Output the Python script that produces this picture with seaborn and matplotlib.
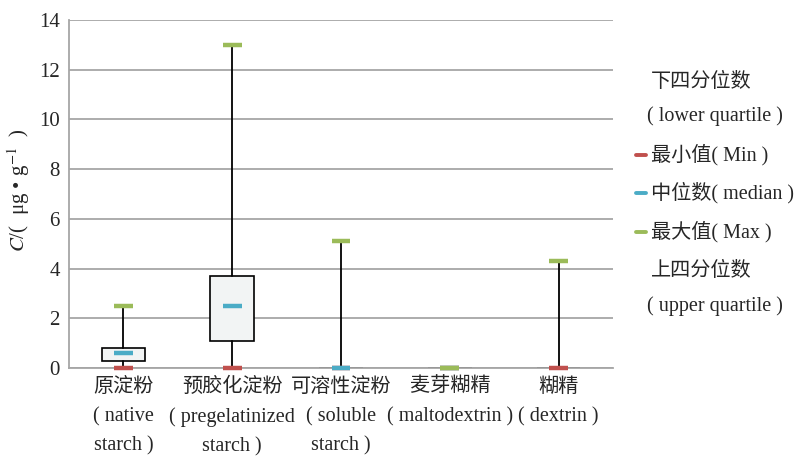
import numpy as np
import pandas as pd
import matplotlib
matplotlib.use("Agg")
import matplotlib.pyplot as plt
from matplotlib.lines import Line2D
import seaborn as sns

# ---- data -------------------------------------------------------------
categories = ["原淀粉", "预胶化淀粉", "可溶性淀粉", "麦芽糊精", "糊精"]
tick_labels = [
    "原淀粉\n( native\nstarch )",
    "预胶化淀粉\n( pregelatinized\nstarch )",
    "可溶性淀粉\n( soluble\nstarch )",
    "麦芽糊精\n( maltodextrin )",
    "糊精\n( dextrin )",
]
min_vals = [0.0, 0.0, 0.0, 0.0, 0.0]
q1_vals = [0.3, 1.1, 0.0, 0.0, 0.0]
median_vals = [0.6, 2.5, 0.0, 0.0, np.nan]
q3_vals = [0.8, 3.7, 0.0, 0.0, 0.0]
max_vals = [2.5, 13.0, 5.1, 0.0, 4.3]

stat_names = ["最小值( Min )", "中位数( median )", "最大值( Max )"]
stat_colors = ["#c0504d", "#4bacc6", "#9bbb59"]
y_ticks = [0, 2, 4, 6, 8, 10, 12, 14]

# ---- style ------------------------------------------------------------
sns.set_style("white")
plt.rcParams["font.family"] = ["Liberation Serif", "Noto Sans CJK SC"]
plt.rcParams["mathtext.fontset"] = "stix"
FS = 14.5

W, H = 801, 457
fig = plt.figure(figsize=(W / 100, H / 100), dpi=100)
ax = fig.add_axes([69 / W, 1 - 368 / H, (613 - 69) / W, (368 - 20) / H])

positions = list(range(len(categories)))

# boxes (quartiles) with whiskers running from min to max
stats = []
for i in positions:
    med = median_vals[i] if not np.isnan(median_vals[i]) else q1_vals[i]
    stats.append(dict(whislo=min_vals[i], q1=q1_vals[i], med=med,
                      q3=q3_vals[i], whishi=max_vals[i], fliers=[]))
ax.bxp(stats, positions=positions, widths=0.4, patch_artist=True,
       showcaps=False, showfliers=False,
       boxprops=dict(facecolor="#f2f4f4", edgecolor="black", linewidth=1.2),
       whiskerprops=dict(color="black", linewidth=1.3),
       medianprops=dict(linewidth=0))

# min / median / max markers
long = pd.DataFrame({
    "category": categories * 3,
    "stat": np.repeat(stat_names, len(categories)),
    "value": min_vals + median_vals + max_vals,
}).dropna()
sns.scatterplot(data=long, x="category", y="value", hue="stat",
                hue_order=stat_names, palette=stat_colors, marker="_",
                s=180, linewidth=3.2, zorder=4, legend=False, clip_on=False,
                ax=ax)

# ---- axes -------------------------------------------------------------
ax.set_xlim(-0.5, len(categories) - 0.5)
ax.set_ylim(0, 14)
ax.set_yticks(y_ticks)
ax.set_yticklabels([str(t) for t in y_ticks], fontsize=FS + 0.5)
ax.set_xticks(positions)
ax.set_xticklabels(tick_labels, fontsize=FS, linespacing=1.72, va="top")
ax.set_xticks(np.arange(-0.5, len(categories)), minor=True)
ax.tick_params(axis="x", which="major", length=0, pad=7)
ax.tick_params(axis="x", which="minor", length=4, color="#a6a6a6", width=1.2,
               direction="out")
ax.tick_params(axis="y", length=4, color="#a6a6a6", width=1.2,
               direction="out", pad=2.5)
ax.set_xlabel("")
ax.set_ylabel("")
ax.yaxis.grid(True, color="#a6a6a6", linewidth=1.3)
ax.set_axisbelow(True)
for side in ["top", "right"]:
    ax.spines[side].set_visible(False)
for side in ["left", "bottom"]:
    ax.spines[side].set_color("#a6a6a6")
    ax.spines[side].set_linewidth(1.3)

fig.text(19 / W, 1 - 190 / H, r"$C$/(  μg • g$^{-1}$  )", rotation=90,
         ha="center", va="center", fontsize=FS + 0.5)

# ---- legend -----------------------------------------------------------
def fx(x):
    return x / W


def fy(y):
    return 1 - y / H


fig.text(fx(651), fy(82), "下四分位数", fontsize=FS, va="center")
fig.text(fx(647), fy(116), "( lower quartile )", fontsize=FS, va="center")
for name, col, yy in zip(stat_names, stat_colors, [155, 193, 232]):
    fig.add_artist(Line2D([fx(636), fx(646)], [fy(yy), fy(yy)], color=col,
                          linewidth=2.8, transform=fig.transFigure))
    fig.text(fx(651), fy(yy), name, fontsize=FS, va="center")
fig.text(fx(651), fy(271), "上四分位数", fontsize=FS, va="center")
fig.text(fx(647), fy(306), "( upper quartile )", fontsize=FS, va="center")

fig.savefig("out.png", dpi=100)
